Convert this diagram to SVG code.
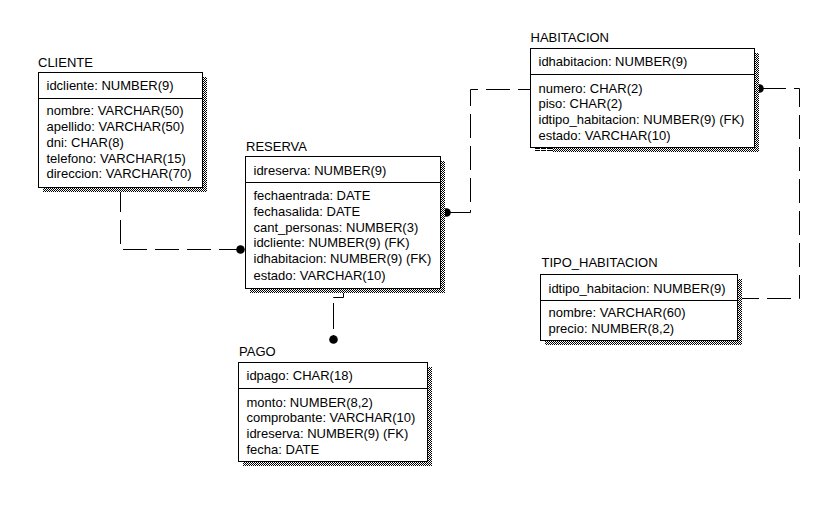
<svg xmlns="http://www.w3.org/2000/svg" width="822" height="512" viewBox="0 0 822 512">
<defs>
<pattern id="dither" patternUnits="userSpaceOnUse" width="2" height="2">
<rect x="0" y="0" width="2" height="2" fill="#fff"/>
<rect x="0" y="0" width="1" height="1" fill="#000"/>
<rect x="1" y="1" width="1" height="1" fill="#000"/>
</pattern>
</defs>
<style>
text{font-family:"Liberation Sans",Arial,sans-serif;font-size:13px;fill:#000}
.box{fill:#fff;stroke:#000;stroke-width:1}
.shadow{fill:url(#dither);stroke:none}
.div{stroke:#000;stroke-width:1}
.conn{fill:none;stroke:#000;stroke-width:1;stroke-dasharray:24 8}
.dot{fill:#000}
</style>
<rect width="822" height="512" fill="#fff"/>

<g id="connectors">
<path class="conn" d="M120.5,188 V249.5 H238"/>
<circle class="dot" cx="240.5" cy="249.5" r="4.3"/>
<path class="conn" d="M449,212.5 H470.5 V89.5 H530"/>
<circle class="dot" cx="446.5" cy="212.5" r="4.3"/>
<path class="conn" d="M762,88.5 H799.5 V298.5 H742"/>
<circle class="dot" cx="759.5" cy="88.5" r="4.3"/>
<path class="conn" style="stroke-dasharray:19 5 26 6" d="M343.5,289 V297.5 H333.5 V337"/>
<circle class="dot" cx="333.5" cy="339.5" r="4.3"/>
</g>

<g id="CLIENTE">
<rect class="shadow" x="43" y="77" width="164" height="115"/>
<rect class="box" x="38.5" y="72.5" width="164" height="115"/>
<line class="div" x1="38.5" y1="98.5" x2="202.5" y2="98.5"/>
<text x="38" y="66.5">CLIENTE</text>
<text x="46.5" y="90">idcliente: NUMBER(9)</text>
<text x="46.5" y="115">nombre: VARCHAR(50)</text>
<text x="46.5" y="131">apellido: VARCHAR(50)</text>
<text x="46.5" y="146.8">dni: CHAR(8)</text>
<text x="46.5" y="162.6">telefono: VARCHAR(15)</text>
<text x="46.5" y="178.4">direccion: VARCHAR(70)</text>
</g>

<g id="RESERVA">
<rect class="shadow" x="250" y="161" width="195" height="132"/>
<rect class="box" x="245.5" y="156.5" width="195" height="132"/>
<line class="div" x1="245.5" y1="182.5" x2="440.5" y2="182.5"/>
<text x="246" y="150.7">RESERVA</text>
<text x="253.5" y="175">idreserva: NUMBER(9)</text>
<text x="253.5" y="199.5">fechaentrada: DATE</text>
<text x="253.5" y="215.5">fechasalida: DATE</text>
<text x="253.5" y="231.5">cant_personas: NUMBER(3)</text>
<text x="253.5" y="247.3">idcliente: NUMBER(9) (FK)</text>
<text x="253.5" y="263.3">idhabitacion: NUMBER(9) (FK)</text>
<text x="253.5" y="279.5">estado: VARCHAR(10)</text>
</g>

<g id="HABITACION">
<rect class="shadow" x="535" y="53" width="224" height="99"/>
<rect fill="#fff" x="535" y="148" width="17" height="4"/>
<line class="div" x1="535" y1="148.5" x2="552" y2="148.5" style="stroke-dasharray:5 1"/>
<line class="div" x1="535" y1="150.5" x2="552" y2="150.5" style="stroke-dasharray:5 1"/>
<rect class="box" x="530.5" y="48.5" width="224" height="99"/>
<line class="div" x1="530.5" y1="74.5" x2="754.5" y2="74.5"/>
<text x="530.5" y="42.3">HABITACION</text>
<text x="538.5" y="66">idhabitacion: NUMBER(9)</text>
<text x="538.5" y="92.5">numero: CHAR(2)</text>
<text x="538.5" y="108.3">piso: CHAR(2)</text>
<text x="538.5" y="124.1">idtipo_habitacion: NUMBER(9) (FK)</text>
<text x="538.5" y="140">estado: VARCHAR(10)</text>
</g>

<g id="TIPO_HABITACION">
<rect class="shadow" x="545" y="279" width="197" height="66"/>
<rect class="box" x="540.5" y="274.5" width="197" height="66"/>
<line class="div" x1="540.5" y1="300.5" x2="737.5" y2="300.5"/>
<text x="541.5" y="267.3">TIPO_HABITACION</text>
<text x="548.5" y="292.5">idtipo_habitacion: NUMBER(9)</text>
<text x="548.5" y="317">nombre: VARCHAR(60)</text>
<text x="548.5" y="333">precio: NUMBER(8,2)</text>
</g>

<g id="PAGO">
<rect class="shadow" x="243" y="367" width="189" height="99"/>
<rect class="box" x="238.5" y="362.5" width="189" height="99"/>
<line class="div" x1="238.5" y1="388.5" x2="427.5" y2="388.5"/>
<text x="239" y="355.7">PAGO</text>
<text x="246.5" y="380.3">idpago: CHAR(18)</text>
<text x="246.5" y="406.5">monto: NUMBER(8,2)</text>
<text x="246.5" y="422.3">comprobante: VARCHAR(10)</text>
<text x="246.5" y="438">idreserva: NUMBER(9) (FK)</text>
<text x="246.5" y="453.7">fecha: DATE</text>
</g>
</svg>
